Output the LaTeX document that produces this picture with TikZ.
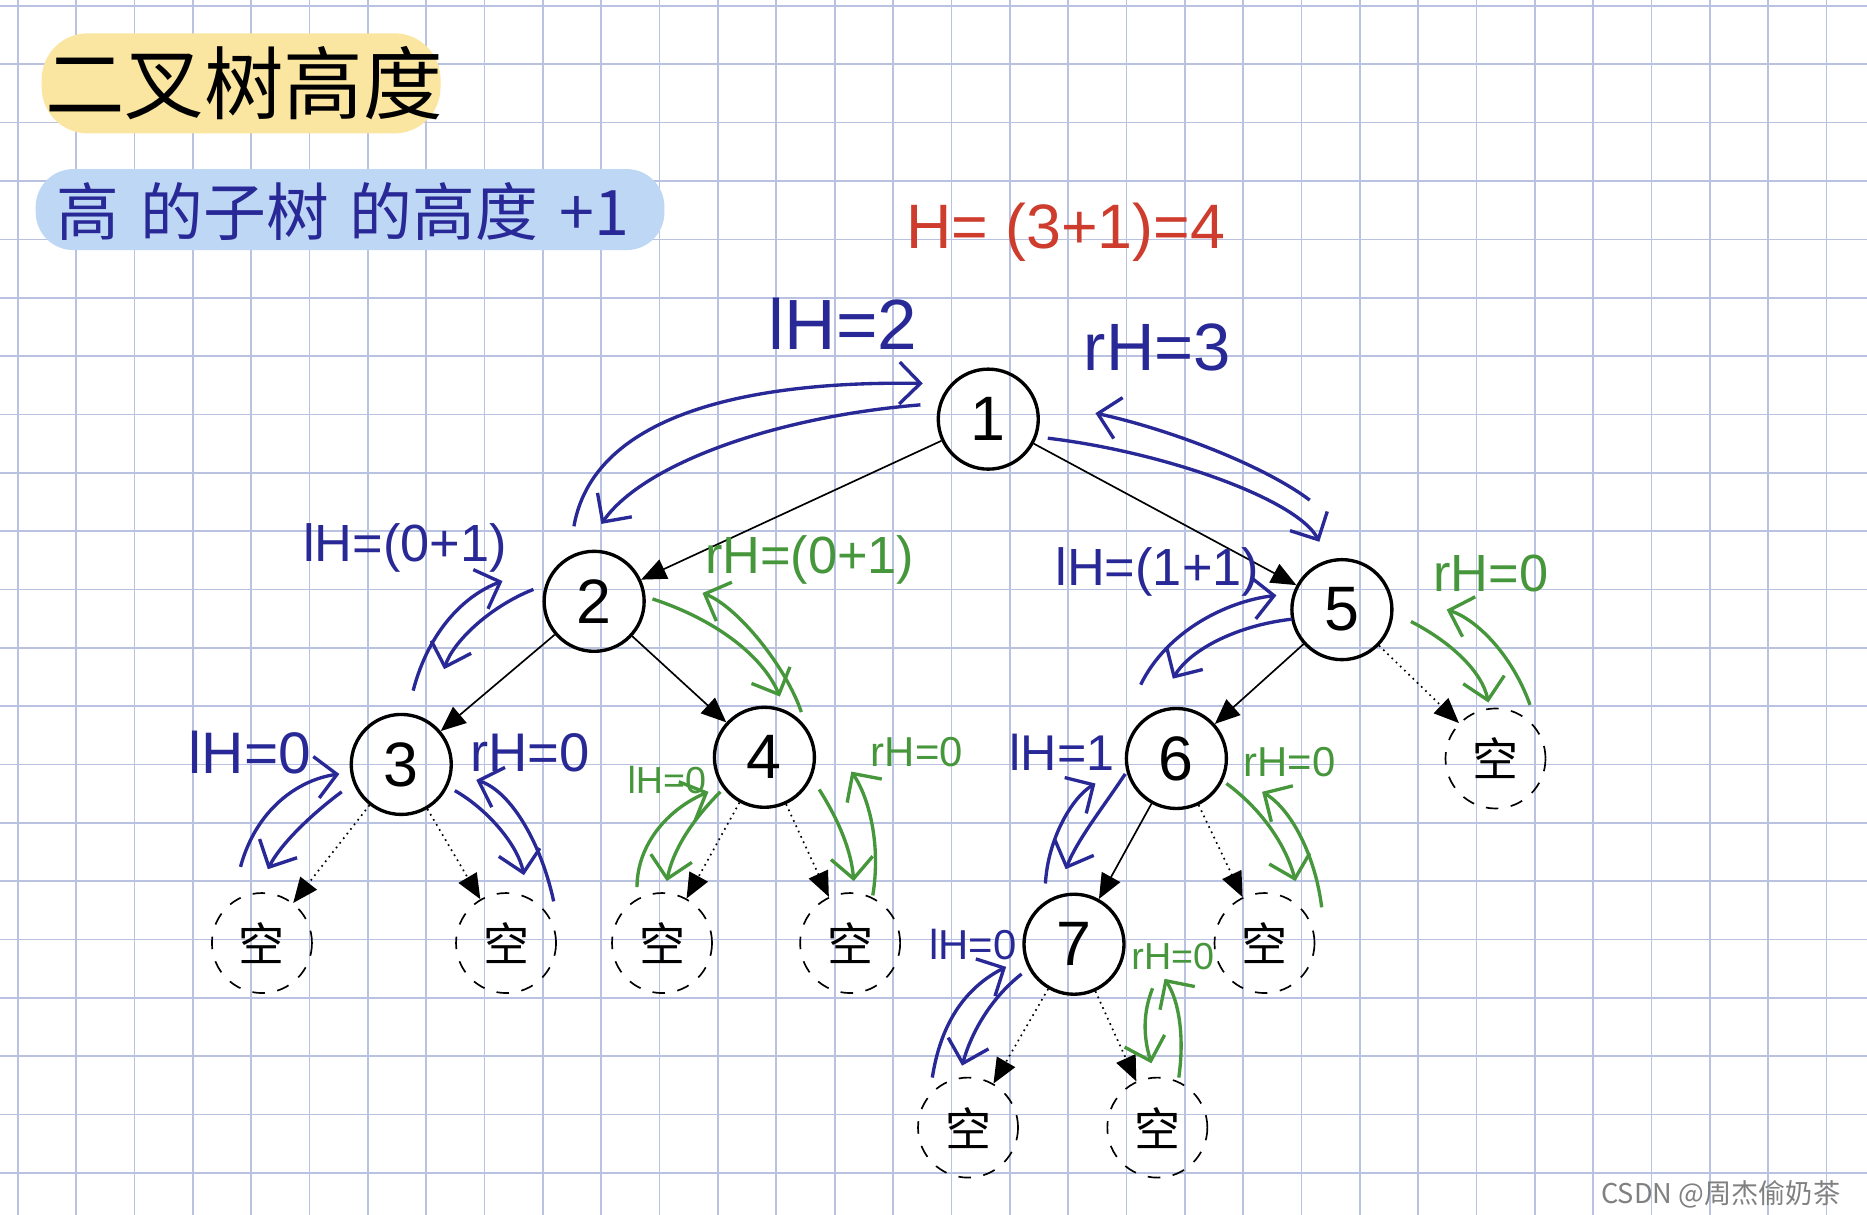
\documentclass[tikz,border=0pt]{standalone}
\usepackage{fontspec}
\setmainfont{Liberation Sans}
\newfontfamily\cjk{Noto Sans CJK SC}
\usetikzlibrary{arrows.meta}
\definecolor{gridc}{RGB}{185,195,225}
\definecolor{pen}{RGB}{40,40,150}
\definecolor{gpen}{RGB}{70,150,60}
\definecolor{rpen}{RGB}{205,60,45}
\definecolor{yel}{RGB}{250,230,160}
\definecolor{blu}{RGB}{190,215,245}
\newcommand{\fs}[1]{\fontsize{#1}{#1}\selectfont}
\tikzset{
 tn/.style={circle,draw,thick,minimum size=0.84cm,inner sep=0pt,font=\fs{15}},
 nn/.style={circle,draw,dashed,minimum size=0.84cm,inner sep=0pt,font=\cjk\fs{11}},
 edge/.style={-{Triangle[length=6pt,width=5pt]},thin},
 dedge/.style={-{Triangle[length=6pt,width=5pt]},densely dotted},
 ba/.style={pen,thick,-{Straight Barb[length=5pt]}},
 ga/.style={gpen,thick,-{Straight Barb[length=5pt]}},
 bl/.style={pen,font=\fs{12.5}},
 gl/.style={gpen,font=\fs{12.5}},
}
\begin{document}
\begin{tikzpicture}[x=0.1mm,y=-0.1mm]
\useasboundingbox (0,0) rectangle (1568,1020);
\fill[white] (0,0) rectangle (1568,1020);
\foreach \x in {15,64,...,1568} \draw[gridc,thin] (\x,0)--(\x,1020);
\foreach \y in {5,54,...,1020} \draw[gridc,thin] (0,\y)--(1568,\y);
% title boxes
\fill[yel,rounded corners=11pt] (35,28) rectangle (370,112);
\node[font=\cjk\fs{19}] (t1) at (205,70) {二叉树高度};
\fill[blu,rounded corners=9pt] (30,142) rectangle (558,210);
\node[pen,font=\cjk\fs{15}] (t2) at (288,178) {高\,\,的子树\,\,的高度\,\,+1};
\node[rpen,font=\fs{15}] (hh) at (895,195) {H= (3+1)=4};
% tree
\node[tn] (n1) at (830,352) {1};
\node[tn] (n2) at (499,505) {2};
\node[tn] (n5) at (1127,512) {5};
\node[tn] (n3) at (337,642) {3};
\node[tn] (n4) at (642,636) {4};
\node[tn] (n6) at (988,637) {6};
\node[tn] (n7) at (902,793) {7};
\node[nn] (a) at (220,792) {空};
\node[nn] (b) at (425,792) {空};
\node[nn] (c) at (556,792) {空};
\node[nn] (d) at (714,792) {空};
\node[nn] (e) at (1062,792) {空};
\node[nn] (f) at (1256,637) {空};
\node[nn] (g) at (813,947) {空};
\node[nn] (h) at (972,947) {空};
\draw[edge] (n1)--(n2); \draw[edge] (n1)--(n5);
\draw[edge] (n2)--(n3); \draw[edge] (n2)--(n4);
\draw[edge] (n5)--(n6); \draw[dedge] (n5)--(f);
\draw[edge] (n6)--(n7); \draw[dedge] (n6)--(e);
\draw[dedge] (n3)--(a); \draw[dedge] (n3)--(b);
\draw[dedge] (n4)--(c); \draw[dedge] (n4)--(d);
\draw[dedge] (n7)--(g); \draw[dedge] (n7)--(h);
% labels
\node[bl,font=\fs{17}] (l1) at (708,272) {lH=2};
\node[bl,font=\fs{16}] (r1) at (972,292) {rH=3};
\node[bl] (l2) at (340,460) {lH=(0+1)};
\node[gl] (r2) at (680,470) {rH=(0+1)};
\node[bl] (l5) at (972,480) {lH=(1+1)};
\node[gl] (r5) at (1252,482) {rH=0};
\node[bl,font=\fs{14}] (l3) at (210,632) {lH=0};
\node[bl,font=\fs{13}] (r3) at (445,632) {rH=0};
\node[gl,font=\fs{9}] (l4) at (560,655) {lH=0};
\node[gl,font=\fs{10}] (r4) at (770,632) {rH=0};
\node[bl,font=\fs{12}] (l6) at (892,632) {lH=1};
\node[gl,font=\fs{10}] (r6) at (1083,640) {rH=0};
\node[bl,font=\fs{10}] (l7) at (817,793) {lH=0};
\node[gl,font=\fs{9}] (r7) at (985,803) {rH=0};
\node[gray,font=\cjk\fs{6.5},anchor=east] (wm) at (1558,1003) {CSDN @周杰偷奶茶};
% curved arrows
\draw[ba] (482,442) .. controls (500,340) and (650,320) .. (775,322);
\draw[ba] (773,340) .. controls (650,350) and (540,390) .. (505,440);
\draw[ba] (880,368) .. controls (980,380) and (1090,420) .. (1108,455);
\draw[ba] (1100,420) .. controls (1060,390) and (980,360) .. (920,347);
\draw[ba] (347,580) .. controls (360,530) and (390,500) .. (422,488);
\draw[ba] (448,495) .. controls (410,510) and (380,540) .. (373,562);
\draw[ga] (548,503) .. controls (600,520) and (640,550) .. (655,585);
\draw[ga] (673,598) .. controls (660,560) and (620,510) .. (590,498);
\draw[ba] (958,575) .. controls (980,530) and (1030,505) .. (1072,500);
\draw[ba] (1085,520) .. controls (1040,525) and (1000,545) .. (985,570);
\draw[ga] (1185,522) .. controls (1220,540) and (1245,565) .. (1250,590);
\draw[ga] (1285,592) .. controls (1270,550) and (1240,520) .. (1215,512);
\draw[ba] (202,728) .. controls (215,680) and (250,655) .. (285,650);
\draw[ba] (287,665) .. controls (260,685) and (235,710) .. (225,730);
\draw[ba] (382,664) .. controls (410,680) and (435,710) .. (440,735);
\draw[ba] (465,757) .. controls (455,710) and (430,665) .. (400,655);
\draw[ga] (535,745) .. controls (535,710) and (560,680) .. (595,665);
\draw[ga] (605,665) .. controls (580,690) and (565,715) .. (560,740);
\draw[ga] (688,663) .. controls (705,690) and (715,715) .. (717,740);
\draw[ga] (733,752) .. controls (740,710) and (730,670) .. (715,648);
\draw[ba] (878,742) .. controls (880,705) and (900,670) .. (920,658);
\draw[ba] (945,650) .. controls (925,680) and (905,705) .. (895,730);
\draw[ga] (1030,658) .. controls (1060,680) and (1080,710) .. (1088,740);
\draw[ga] (1110,762) .. controls (1105,720) and (1085,680) .. (1060,665);
\draw[ba] (783,905) .. controls (790,860) and (810,830) .. (845,812);
\draw[ba] (858,818) .. controls (830,840) and (815,870) .. (808,895);
\draw[ga] (968,830) .. controls (960,850) and (960,870) .. (967,893);
\draw[ga] (990,905) .. controls (995,870) and (990,840) .. (978,822);
\end{tikzpicture}
\end{document}
